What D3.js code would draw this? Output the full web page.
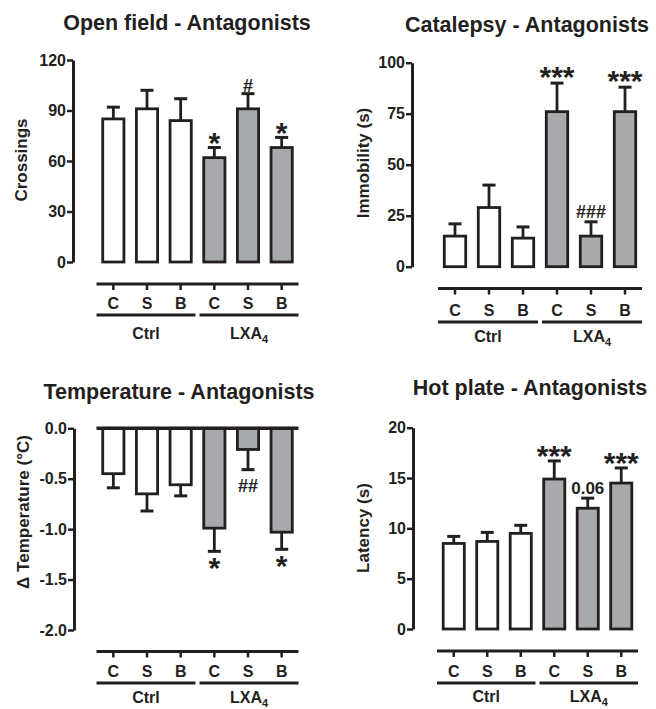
<!DOCTYPE html>
<html>
<head>
<meta charset="utf-8">
<script src="https://cdn.jsdelivr.net/npm/d3@7"></script>
<style>
  body { margin: 0; background: #fff; }
  text { font-family: "Liberation Sans", Arial, sans-serif; fill: #231f20; }
</style>
</head>
<body>
<div class="main"></div>
<script>
// values
const categories = ["C", "S", "B", "C", "S", "B"];
const groups = ["Ctrl", "LXA4"];
const isTreated = [false, false, false, true, true, true];

const openFieldMean = [85, 91, 84, 62, 91, 68];
const openFieldSem = [7, 11, 13, 6, 9, 6];
const openFieldMarks = ["", "", "", "*", "#", "*"];
const openFieldTicks = [0, 30, 60, 90, 120];

const catalepsyMean = [15, 29, 14, 76, 15, 76];
const catalepsySem = [6, 11, 5.5, 14, 7, 12];
const catalepsyMarks = ["", "", "", "***", "###", "***"];
const catalepsyTicks = [0, 25, 50, 75, 100];

const temperatureMean = [-0.45, -0.65, -0.56, -0.99, -0.21, -1.03];
const temperatureSem = [0.14, 0.17, 0.11, 0.23, 0.2, 0.17];
const temperatureMarks = ["", "", "", "*", "##", "*"];
const temperatureTicks = [0, -0.5, -1, -1.5, -2];

const hotPlateMean = [8.5, 8.7, 9.5, 14.9, 12.0, 14.5];
const hotPlateSem = [0.7, 0.9, 0.8, 1.8, 1.0, 1.5];
const hotPlateMarks = ["", "", "", "***", "0.06", "***"];
const hotPlateTicks = [0, 5, 10, 15, 20];

const ink = "#231f20";
const grey = "#a7a9ac";

const svg = d3.select(".main").append("svg")
  .attr("width", 656)
  .attr("height", 709);

// plain hyphen instead of the unicode minus d3 puts in
const hyphen = f => v => f(v).replace("\u2212", "-");

// one panel = one bar chart
function drawPanel(p) {
  const g = svg.append("g");

  const y = d3.scaleLinear().domain(p.domain).range([p.yBottom, p.yTop]);
  const x = d3.scaleBand().domain(d3.range(6))
    .range([p.x0, p.x1]).paddingInner(0.37).paddingOuter(0.185);

  // title
  g.append("text")
    .attr("x", p.titleX).attr("y", p.titleY)
    .attr("text-anchor", "middle")
    .style("font-size", "21.5px").style("font-weight", "bold")
    .text(p.title);

  // y axis
  const yAxis = d3.axisLeft(y).tickValues(p.ticks).tickSize(6).tickSizeOuter(0)
    .tickFormat(hyphen(p.format || d3.format("d")));
  const ya = g.append("g").attr("transform", `translate(${p.axisX},0)`).call(yAxis);
  ya.select(".domain").attr("stroke", ink).attr("stroke-width", 3);
  ya.selectAll(".tick line").attr("stroke", ink).attr("stroke-width", 2.5);
  ya.selectAll(".tick text")
    .attr("x", -7)
    .style("font-size", "16px").style("font-weight", "bold")
    .style("font-family", "'Liberation Sans', Arial, sans-serif")
    .attr("fill", ink);

  g.append("text")
    .attr("transform", `translate(${p.labelX},${p.labelY}) rotate(-90)`)
    .attr("text-anchor", "middle")
    .attr("dy", "0.35em")
    .style("font-size", "17px").style("font-weight", "bold")
    .text(p.yLabel);

  const base = y(0);
  const bw = x.bandwidth();

  // error bars (one side only)
  const eb = g.selectAll(".err").data(p.mean).enter().append("g");
  eb.append("line")
    .attr("x1", (d, i) => x(i) + bw / 2).attr("x2", (d, i) => x(i) + bw / 2)
    .attr("y1", d => y(d))
    .attr("y2", (d, i) => y(d + Math.sign(d) * p.sem[i]))
    .attr("stroke", ink).attr("stroke-width", 2.8);
  eb.append("line")
    .attr("x1", (d, i) => x(i) + bw / 2 - 6.5).attr("x2", (d, i) => x(i) + bw / 2 + 6.5)
    .attr("y1", (d, i) => y(d + Math.sign(d) * p.sem[i]))
    .attr("y2", (d, i) => y(d + Math.sign(d) * p.sem[i]))
    .attr("stroke", ink).attr("stroke-width", 3);

  // bars
  g.selectAll(".bar").data(p.mean).enter().append("rect")
    .attr("x", (d, i) => x(i))
    .attr("width", bw)
    .attr("y", d => Math.min(y(d), base))
    .attr("height", d => Math.abs(y(d) - base))
    .attr("fill", (d, i) => isTreated[i] ? grey : "#fff")
    .attr("stroke", ink).attr("stroke-width", 2.8);

  // zero line for negative data
  if (p.zeroLine) {
    g.append("line")
      .attr("x1", p.x0).attr("x2", p.x1)
      .attr("y1", base).attr("y2", base)
      .attr("stroke", ink).attr("stroke-width", 3.5);
  }

  // significance marks
  const markSize = d => d[0] === "*" ? 30 : (d[0] === "#" ? 18 : 17);
  g.selectAll(".mark").data(p.marks).enter().append("text")
    .attr("x", (d, i) => x(i) + bw / 2)
    .attr("y", (d, i) => {
      const m = p.mean[i];
      const end = y(m + Math.sign(m) * p.sem[i]);
      const center = d[0] === "*" ? 0.5 : 0.36;
      const gap = m >= 0 ? -p.gapUp[i] : p.gapDown[i];
      return end + gap + center * markSize(d);
    })
    .attr("text-anchor", "middle")
    .style("font-size", d => markSize(d) + "px")
    .style("font-weight", "bold")
    .text(d => d);

  // category axis
  g.append("line")
    .attr("x1", p.x0).attr("x2", p.x1)
    .attr("y1", p.catY).attr("y2", p.catY)
    .attr("stroke", ink).attr("stroke-width", 3);
  g.selectAll(".ctick").data(categories).enter().append("line")
    .attr("x1", (d, i) => x(i) + bw / 2).attr("x2", (d, i) => x(i) + bw / 2)
    .attr("y1", p.catY).attr("y2", p.catY + 6)
    .attr("stroke", ink).attr("stroke-width", 2.5);
  g.selectAll(".clab").data(categories).enter().append("text")
    .attr("x", (d, i) => x(i) + bw / 2)
    .attr("y", p.catLabelY)
    .attr("dy", "0.35em")
    .attr("text-anchor", "middle")
    .style("font-size", "16px").style("font-weight", "bold")
    .text(d => d);

  // group lines and labels
  const step = x.step();
  groups.forEach((name, gi) => {
    const gx0 = p.x0 + gi * 3 * step + (gi === 0 ? 0 : 2);
    const gx1 = p.x0 + (gi + 1) * 3 * step - (gi === 0 ? 2 : 0);
    g.append("line")
      .attr("x1", gx0).attr("x2", gx1)
      .attr("y1", p.groupY).attr("y2", p.groupY)
      .attr("stroke", ink).attr("stroke-width", 3);
    const t = g.append("text")
      .attr("x", (gx0 + gx1) / 2)
      .attr("y", p.groupLabelY)
      .attr("dy", "0.35em")
      .attr("text-anchor", "middle")
      .style("font-size", "16px").style("font-weight", "bold");
    if (name === "LXA4") {
      t.append("tspan").text("LXA");
      t.append("tspan").attr("dy", 4).style("font-size", "11px").text("4");
    } else {
      t.text(name);
    }
  });
}

drawPanel({
  title: "Open field - Antagonists", titleX: 187, titleY: 30,
  yLabel: "Crossings", labelX: 21, labelY: 160,
  mean: openFieldMean, sem: openFieldSem, marks: openFieldMarks,
  ticks: openFieldTicks, domain: [0, 120],
  axisX: 73, yTop: 60, yBottom: 262, x0: 96.5, x1: 298.5,
  gapUp: [0, 0, 0, 10, 8, 9], gapDown: [0, 0, 0, 0, 0, 0],
  catY: 284, catLabelY: 303, groupY: 315, groupLabelY: 333
});

drawPanel({
  title: "Catalepsy - Antagonists", titleX: 527, titleY: 32,
  yLabel: "Immobility (s)", labelX: 363, labelY: 163,
  mean: catalepsyMean, sem: catalepsySem, marks: catalepsyMarks,
  ticks: catalepsyTicks, domain: [0, 100],
  axisX: 412, yTop: 62.7, yBottom: 266.7, x0: 438, x1: 642,
  gapUp: [0, 0, 0, 11.5, 10, 11], gapDown: [0, 0, 0, 0, 0, 0],
  catY: 288.5, catLabelY: 310, groupY: 322, groupLabelY: 336
});

drawPanel({
  title: "Temperature - Antagonists", titleX: 179, titleY: 399,
  yLabel: "\u0394 Temperature (\u00B0C)", labelX: 23, labelY: 512,
  mean: temperatureMean, sem: temperatureSem, marks: temperatureMarks,
  ticks: temperatureTicks, domain: [-2, 0], format: d3.format(".1f"),
  axisX: 74, yTop: 428.3, yBottom: 630, x0: 96.5, x1: 298.5, zeroLine: true,
  gapUp: [0, 0, 0, 0, 0, 0], gapDown: [0, 0, 0, 12, 16, 12],
  catY: 651.5, catLabelY: 671.5, groupY: 683, groupLabelY: 697
});

drawPanel({
  title: "Hot plate - Antagonists", titleX: 530, titleY: 395,
  yLabel: "Latency (s)", labelX: 363, labelY: 528,
  mean: hotPlateMean, sem: hotPlateSem, marks: hotPlateMarks,
  ticks: hotPlateTicks, domain: [0, 20],
  axisX: 413, yTop: 427.7, yBottom: 629, x0: 437, x1: 638,
  gapUp: [0, 0, 0, 9.5, 10, 9.5], gapDown: [0, 0, 0, 0, 0, 0],
  catY: 651, catLabelY: 671, groupY: 683, groupLabelY: 696
});
</script>
</body>
</html>
